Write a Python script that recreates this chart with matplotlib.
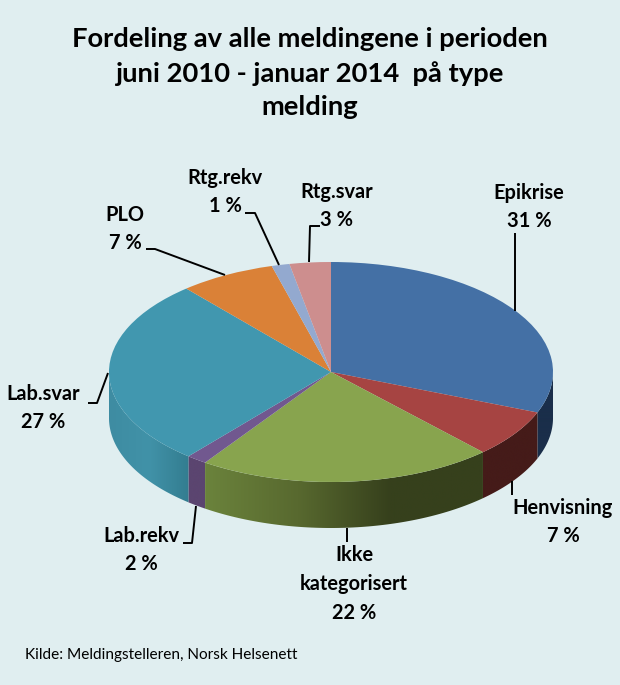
import numpy as np
import matplotlib
matplotlib.use('Agg')
import matplotlib.pyplot as plt
from matplotlib.colors import LinearSegmentedColormap
from matplotlib.patches import Polygon

plt.rcParams['font.family'] = ['Lato', 'DejaVu Sans']

names = ['Epikrise', 'Henvisning', 'Ikke\nkategorisert', 'Lab.rekv', 'Lab.svar', 'PLO', 'Rtg.rekv', 'Rtg.svar']
shares = [31, 7, 21.6, 1.5, 27.6, 7, 1.3, 3.0]
percent_labels = ['31 %', '7 %', '22 %', '2 %', '27 %', '7 %', '1 %', '3 %']
top_colors = ['#4470A5', '#A64442', '#88A44E', '#71588F', '#4197AF', '#DA8137', '#93A9CF', '#CD8E8E']
side_colors = [['#1A2E4A', '#1A2E4A'], ['#451B19', '#451B19'],
               ['#6B833C', '#58692F', '#36401C', '#36401C'], ['#5B4570', '#5B4570'],
               ['#3E8CA2', '#4192A8', '#337D90'], ['#A0612A', '#A0612A'],
               ['#6E7F9C', '#6E7F9C'], ['#9A6B6B', '#9A6B6B']]

bg = '#E0EEF0'
W, H = 620, 685
cx, cy, rx, ry = 331, 372, 222, 110
depth = 46 / ry

fig = plt.figure(figsize=(W / 100, H / 100), dpi=100, facecolor=bg)

# pie axes spans the figure, scaled so the top ellipse has radius 1
pie_ax = fig.add_axes([0, 0, 1, 1], facecolor='none')
wedges, _ = pie_ax.pie(shares, colors=top_colors, startangle=90, counterclock=False,
                       wedgeprops={'linewidth': 0.3, 'edgecolor': 'none', 'zorder': 5})
pie_ax.set_aspect('auto')
xlim = (-cx / rx, (W - cx) / rx)
ylim = ((cy - H) / ry, cy / ry)

# side walls, only the part of each slice on the front half
for w, cols in zip(wedges, side_colors):
    a1, a2 = w.theta1 % 360, w.theta2 % 360
    if a2 <= a1:
        a2 += 360
    lo = max(a1, 180)
    hi = min(a2, 360)
    if hi <= lo:
        continue
    t = np.radians(np.linspace(lo, hi, 80))
    xs, ys = np.cos(t), np.sin(t)
    pts = np.r_[np.c_[xs, ys], np.c_[xs[::-1], ys[::-1] - depth]]
    poly = Polygon(pts, closed=True, transform=pie_ax.transData, facecolor='none', edgecolor='none')
    pie_ax.add_patch(poly)
    cmap = LinearSegmentedColormap.from_list('side', cols)
    im = pie_ax.imshow(np.linspace(0, 1, 256)[None, :], cmap=cmap, aspect='auto', zorder=2,
                       extent=(xs.min(), xs.max(), -1 - depth, 0.5))
    im.set_clip_path(poly)

pie_ax.set_xlim(*xlim)
pie_ax.set_ylim(*ylim)
pie_ax.set_aspect('auto')

# overlay in picture pixels for the labels and leader lines
ax = fig.add_axes([0, 0, 1, 1], facecolor='none')
ax.set_xlim(0, W)
ax.set_ylim(H, 0)
ax.axis('off')

ax.text(310, 73, 'Fordeling av alle meldingene i perioden\njuni 2010 - januar 2014  på type\nmelding',
        ha='center', va='center', fontsize=19.7, fontweight='bold', color='black', linespacing=1.45)

label_xy = [(529, 207), (563, 522), (354, 584), (141, 550), (43, 408), (125, 229), (225, 192), (337, 206)]
for name, pct, (x, y) in zip(names, percent_labels, label_xy):
    ax.text(x, y, name + '\n' + pct, ha='center', va='center', fontsize=14.4, fontweight='bold',
            color='black', linespacing=1.55)

leaders = [[(515, 233), (515, 311)],
           [(512, 481), (512, 495)],
           [(347, 528), (347, 542)],
           [(183, 543), (192, 543), (196, 506)],
           [(88, 403), (97, 403), (108, 373)],
           [(146, 249), (155, 249), (225, 275)],
           [(245, 213), (255, 213), (279, 265)],
           [(320, 226), (310, 226), (309, 262)]]
for seg in leaders:
    ax.plot([p[0] for p in seg], [p[1] for p in seg], color='black', lw=1.4, solid_capstyle='butt')

ax.text(25, 655, 'Kilde: Meldingstelleren, Norsk Helsenett', ha='left', va='center', fontsize=11.1, color='black')

fig.savefig('out.png', dpi=100, facecolor=bg)
